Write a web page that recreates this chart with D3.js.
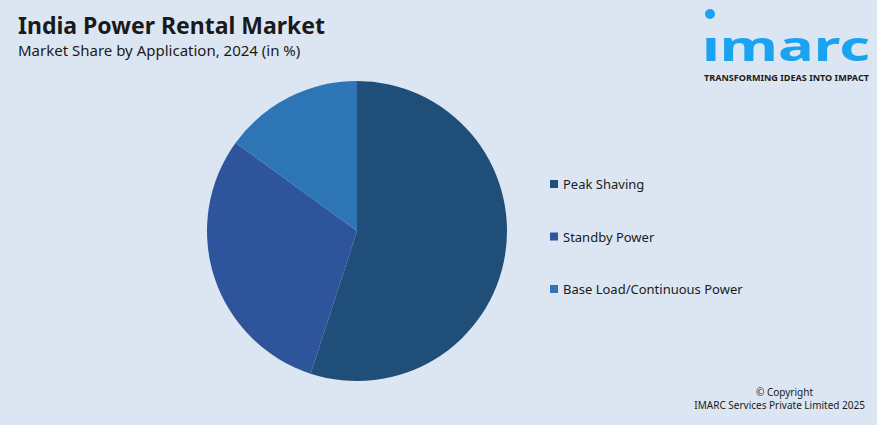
<!DOCTYPE html>
<html><head><meta charset="utf-8">
<script src="https://cdn.jsdelivr.net/npm/d3@7"></script>
<style>body{margin:0;background:#dce6f2;font-family:"Noto Sans",Arial,sans-serif}</style>
</head><body>
<svg id="chart" width="877" height="425"></svg>
<script>
const categories = ["Peak Shaving", "Standby Power", "Base Load/Continuous Power"];
const shares = [55, 30, 15];
const colors = ["#1f4e79", "#2e559b", "#2e75b6"];

const svg = d3.select("#chart");
svg.append("rect").attr("width", 877).attr("height", 425).attr("fill", "#dce6f2");

svg.append("text").attr("x", 18).attr("y", 34).attr("font-size", 23).attr("font-weight", "bold")
  .attr("fill", "#1a1a1a").text("India Power Rental Market");
svg.append("text").attr("x", 18).attr("y", 56).attr("font-size", 15).attr("fill", "#1a1a1a")
  .text("Market Share by Application, 2024 (in %)");

// logo
const logo = svg.append("g");
logo.append("circle").attr("cx", 710).attr("cy", 14).attr("r", 5).attr("fill", "#1aa3f0");
logo.append("text").attr("x", 702).attr("y", 61).attr("font-size", 42).attr("font-weight", "bold")
  .attr("fill", "#1aa3f0").attr("textLength", 168).attr("lengthAdjust", "spacingAndGlyphs").text("ımarc");
logo.append("text").attr("x", 704).attr("y", 81).attr("font-size", 9).attr("font-weight", "bold")
  .attr("fill", "#1a1a1a").attr("textLength", 165).attr("lengthAdjust", "spacingAndGlyphs")
  .text("TRANSFORMING IDEAS INTO IMPACT");

const pie = d3.pie().sort(null).value(d => d);
const arc = d3.arc().innerRadius(0).outerRadius(150);
svg.append("g").attr("transform", "translate(357,231)")
  .selectAll("path").data(pie(shares)).join("path")
  .attr("d", arc).attr("fill", (d, i) => colors[i]);

const y = d3.scalePoint().domain(categories).range([184, 289]);
const leg = svg.append("g").selectAll("g").data(categories).join("g")
  .attr("transform", d => `translate(550,${y(d)})`);
leg.append("rect").attr("x", 0).attr("y", -4).attr("width", 8).attr("height", 8)
  .attr("fill", (d, i) => colors[i]);
leg.append("text").attr("x", 13).attr("y", 5).attr("font-size", 13).attr("fill", "#1a1a1a").text(d => d);

svg.append("text").attr("x", 813).attr("y", 396).attr("text-anchor", "end").attr("font-size", 10)
  .attr("fill", "#1a1a1a").text("© Copyright");
svg.append("text").attr("x", 865).attr("y", 409).attr("text-anchor", "end").attr("font-size", 10)
  .attr("fill", "#1a1a1a").text("IMARC Services Private Limited 2025");
</script>
</body></html>
